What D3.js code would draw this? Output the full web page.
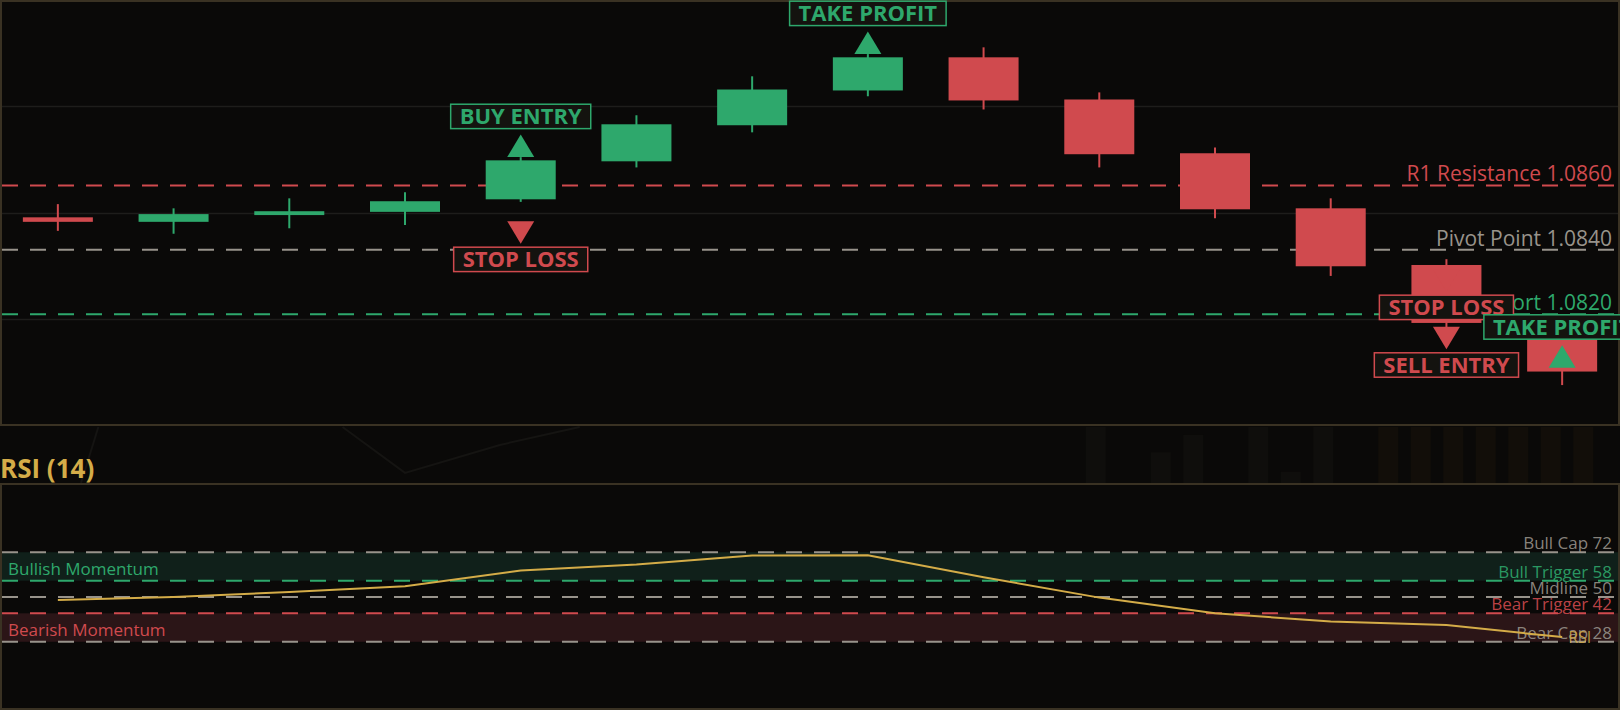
<!DOCTYPE html>
<html>
<head>
<meta charset="utf-8">
<script src="https://cdn.jsdelivr.net/npm/d3@7"></script>
<style>
  body { margin: 0; background: #0a0908; }
  svg { display: block; font-family: "Open Sans", sans-serif; }
</style>
</head>
<body>
<script>
var W = 1620, H = 710;

// ---- data ----
var opens  = [1.08501, 1.08487, 1.08508, 1.08518, 1.08557, 1.08675, 1.08787, 1.08895, 1.08998, 1.08867, 1.08700, 1.08529, 1.08353, 1.08125];
var highs  = [1.08542, 1.08529, 1.08560, 1.08579, 1.08688, 1.08818, 1.08939, 1.09008, 1.09029, 1.08889, 1.08718, 1.08560, 1.08371, 1.08135];
var lows   = [1.08459, 1.08450, 1.08467, 1.08477, 1.08549, 1.08656, 1.08765, 1.08877, 1.08836, 1.08656, 1.08498, 1.08319, 1.08155, 1.07980];
var closes = [1.08487, 1.08511, 1.08520, 1.08551, 1.08678, 1.08790, 1.08898, 1.08998, 1.08864, 1.08697, 1.08526, 1.08349, 1.08173, 1.08022];
var rsi    = [48.5, 50.0, 52.4, 55.3, 63.0, 66.0, 70.4, 70.5, 59.7, 49.7, 42.0, 38.0, 36.2, 30.3];

var levelNames  = ["R1 Resistance", "Pivot Point", "S1 Support"];
var levelValues = [1.0860, 1.0840, 1.0820];

var rsiLevelNames  = ["Bull Cap", "Bull Trigger", "Midline", "Bear Trigger", "Bear Cap"];
var rsiLevelValues = [72, 58, 50, 42, 28];

var GREEN = "#2ea86c", RED = "#d04a4e", GREY = "#98938b", GOLD = "#d4ac48";

var annotations = [
  { i: 4,  text: "BUY ENTRY",   dir: "up",   price: 1.08688, color: GREEN },
  { i: 4,  text: "STOP LOSS",   dir: "down", price: 1.08489, color: RED },
  { i: 7,  text: "TAKE PROFIT", dir: "up",   price: 1.09008, color: GREEN },
  { i: 12, text: "STOP LOSS",   dir: "down", price: 1.08340, color: RED },
  { i: 12, text: "SELL ENTRY",  dir: "down", price: 1.08161, color: RED },
  { i: 13, text: "TAKE PROFIT", dir: "up",   price: 1.08034, color: GREEN }
];

// faint background texture between the panels
var ghostVol = [1, 0, 0.55, 0.86, 0, 1, 0.2, 1, 0, 1, 1, 1, 1, 1, 1, 1];
var ghostLineA = [[0.2, 0], [0.35, 1]];
var ghostLineB = [[2.46, 1], [3.0, 0.18], [3.82, 0.68], [4.51, 1]];

// ---- layout ----
var svg = d3.select("body").append("svg")
  .attr("width", W)
  .attr("height", H);

var mainTop = 1, mainBottom = 425;
var rsiTop = 484, rsiBottom = 709;

var x = d3.scaleBand()
  .domain(d3.range(opens.length))
  .range([0, W])
  .paddingInner(0.395)
  .paddingOuter(0.1975);
var cx = function(i) { return x(i) + x.bandwidth() / 2; };

var yP = d3.scaleLinear().domain([1.07856, 1.09176]).range([mainBottom, 0]);
var yR = d3.scaleLinear().domain([-5, 105]).range([rsiBottom, 485]);

// ---- ghost strip ----
var strip = svg.append("g");
var gx = d3.scaleBand().domain(d3.range(ghostVol.length)).range([1079.5, 1599.5])
  .paddingInner(0.38).paddingOuter(0.19);
var gy = d3.scaleLinear().domain([0, 1]).range([483, 427]);
strip.selectAll("rect").data(ghostVol).enter().append("rect")
  .attr("x", function(d, i) { return gx(i); })
  .attr("width", gx.bandwidth())
  .attr("y", function(d) { return gy(d); })
  .attr("height", function(d) { return gy(0) - gy(d); })
  .attr("fill", function(d, i) { return i > 8 ? "#120e09" : "#0f0e0c"; });
var gline = d3.line().x(function(d) { return cx(0) + d[0] * x.step(); }).y(function(d) { return gy(d[1]); });
[ghostLineA, ghostLineB].forEach(function(pts) {
  strip.append("path").attr("d", gline(pts))
    .attr("fill", "none").attr("stroke", "#151412").attr("stroke-width", 2);
});

// ---- main panel ----
var main = svg.append("g");
main.append("rect")
  .attr("x", 1).attr("y", mainTop)
  .attr("width", W - 2).attr("height", mainBottom - mainTop)
  .attr("fill", "#0a0908")
  .attr("stroke", "#3a3223")
  .attr("stroke-width", 2);

main.selectAll(".grid").data([0.25, 0.5, 0.75]).enter().append("line")
  .attr("x1", 2).attr("x2", W - 2)
  .attr("y1", function(d) { return Math.round(mainBottom * d) + 0.5; })
  .attr("y2", function(d) { return Math.round(mainBottom * d) + 0.5; })
  .attr("stroke", "#1e1d1b").attr("stroke-width", 1.5);

var levelColors = [RED, GREY, GREEN];
main.selectAll(".lvl").data(levelValues).enter().append("line")
  .attr("x1", 2).attr("x2", W - 2)
  .attr("y1", function(d) { return yP(d); })
  .attr("y2", function(d) { return yP(d); })
  .attr("stroke", function(d, i) { return levelColors[i]; })
  .attr("stroke-width", 2)
  .attr("stroke-dasharray", "16,12");

main.selectAll(".lvlText").data(levelValues).enter().append("text")
  .attr("x", 1612)
  .attr("y", function(d) { return yP(d) - 4; })
  .attr("text-anchor", "end")
  .attr("font-size", 21)
  .attr("fill", function(d, i) { return levelColors[i]; })
  .text(function(d, i) { return levelNames[i] + " " + d.toFixed(4); });

// candles
var candle = main.selectAll(".candle").data(opens).enter().append("g");
candle.append("line")
  .attr("x1", function(d, i) { return cx(i); })
  .attr("x2", function(d, i) { return cx(i); })
  .attr("y1", function(d, i) { return yP(highs[i]); })
  .attr("y2", function(d, i) { return yP(lows[i]); })
  .attr("stroke", function(d, i) { return closes[i] >= d ? GREEN : RED; })
  .attr("stroke-width", 2);
candle.append("rect")
  .attr("x", function(d, i) { return x(i); })
  .attr("width", x.bandwidth())
  .attr("y", function(d, i) { return yP(Math.max(d, closes[i])); })
  .attr("height", function(d, i) { return Math.max(2, Math.abs(yP(d) - yP(closes[i]))); })
  .attr("fill", function(d, i) { return closes[i] >= d ? GREEN : RED; });

// trade annotations
annotations.forEach(function(a) {
  var c = cx(a.i);
  var base = yP(a.price);
  var tip = a.dir === "up" ? base - 22.5 : base + 22.5;
  var g = main.append("g");
  g.append("path")
    .attr("d", "M" + (c - 13.5) + "," + base + "L" + (c + 13.5) + "," + base + "L" + c + "," + tip + "Z")
    .attr("fill", a.color);
  var boxH = 24.4;
  var boxTop = a.dir === "up" ? tip - 6 - boxH : tip + 3.5;
  var box = g.append("rect");
  var t = g.append("text")
    .attr("x", c)
    .attr("y", boxTop + 20)
    .attr("text-anchor", "middle")
    .attr("font-size", 22)
    .attr("font-weight", 700)
    .attr("fill", a.color)
    .text(a.text);
  var w = t.node().getComputedTextLength() + 18;
  box.attr("x", c - w / 2).attr("y", boxTop)
    .attr("width", w).attr("height", boxH)
    .attr("fill", "#14130f")
    .attr("stroke", a.color)
    .attr("stroke-width", 1.5);
});

// ---- RSI panel ----
svg.append("text")
  .attr("x", 0).attr("y", 478)
  .attr("font-size", 26).attr("font-weight", 700)
  .attr("fill", GOLD)
  .text("RSI (14)");

var rp = svg.append("g");
rp.append("rect")
  .attr("x", 1).attr("y", rsiTop)
  .attr("width", W - 2).attr("height", rsiBottom - rsiTop)
  .attr("fill", "#0a0908")
  .attr("stroke", "#3a3223")
  .attr("stroke-width", 2);

var zones = [
  { from: 72, to: 58, fill: "#10201a", text: "Bullish Momentum", color: GREEN },
  { from: 42, to: 28, fill: "#2b1517", text: "Bearish Momentum", color: RED }
];
rp.selectAll(".zone").data(zones).enter().append("rect")
  .attr("x", 2).attr("width", W - 4)
  .attr("y", function(d) { return yR(d.from); })
  .attr("height", function(d) { return yR(d.to) - yR(d.from); })
  .attr("fill", function(d) { return d.fill; });
rp.selectAll(".zoneText").data(zones).enter().append("text")
  .attr("x", 8)
  .attr("y", function(d) { return yR(d.to) - 6; })
  .attr("font-size", 17)
  .attr("fill", function(d) { return d.color; })
  .text(function(d) { return d.text; });

var rsiColors = [GREY, GREEN, GREY, RED, GREY];
rp.selectAll(".rl").data(rsiLevelValues).enter().append("line")
  .attr("x1", 2).attr("x2", W - 2)
  .attr("y1", function(d) { return yR(d); })
  .attr("y2", function(d) { return yR(d); })
  .attr("stroke", function(d, i) { return rsiColors[i]; })
  .attr("stroke-width", 2)
  .attr("stroke-dasharray", "16,12");

rp.selectAll(".rlText").data(rsiLevelValues).enter().append("text")
  .attr("x", 1612)
  .attr("y", function(d) { return yR(d) - 3; })
  .attr("text-anchor", "end")
  .attr("font-size", 17)
  .attr("fill", function(d, i) { return rsiColors[i]; })
  .attr("fill-opacity", 0.9)
  .text(function(d, i) { return rsiLevelNames[i] + " " + d; });

var rsiLine = d3.line()
  .x(function(d, i) { return cx(i); })
  .y(function(d) { return yR(d); });
rp.append("path")
  .datum(rsi)
  .attr("d", rsiLine)
  .attr("fill", "none")
  .attr("stroke", GOLD)
  .attr("stroke-width", 2);

rp.append("text")
  .attr("x", cx(rsi.length - 1) + 6)
  .attr("y", yR(rsi[rsi.length - 1]) + 6)
  .attr("font-size", 16)
  .attr("fill", GOLD)
  .attr("fill-opacity", 0.85)
  .text("RSI");
</script>
</body>
</html>
